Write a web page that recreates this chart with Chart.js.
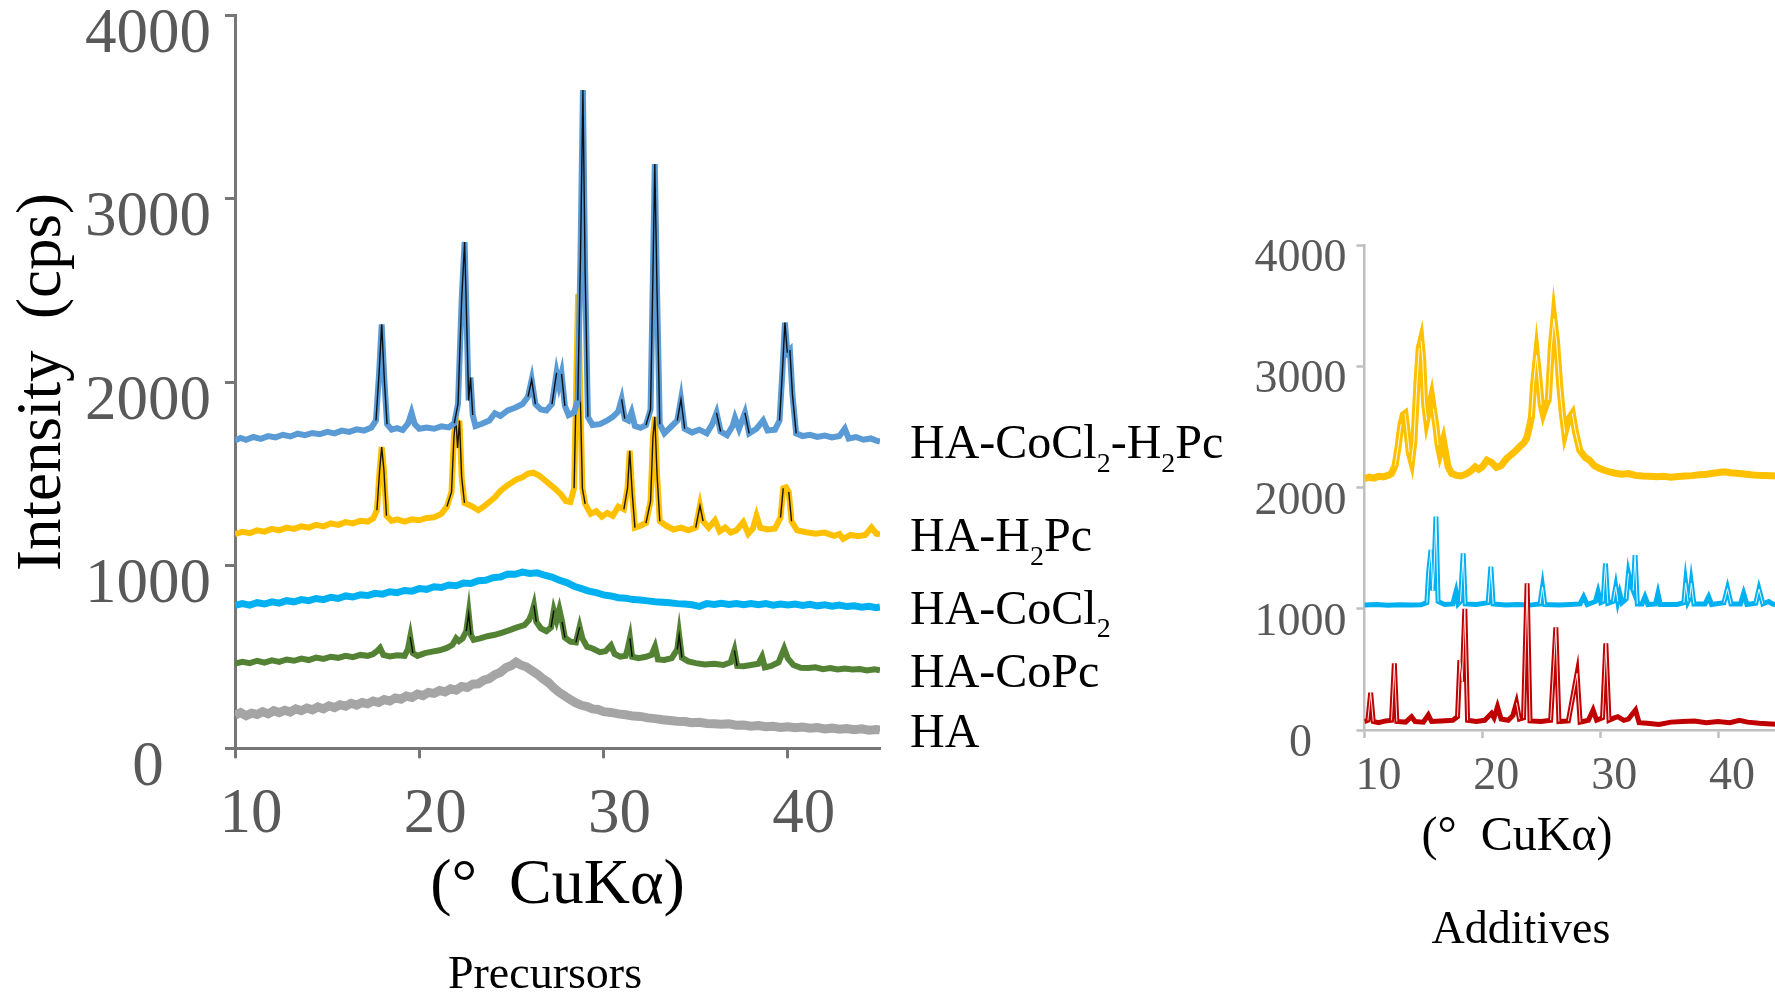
<!DOCTYPE html>
<html lang="en">
<head>
  <meta charset="UTF-8">
  <title>XRD patterns</title>
  <script src="https://cdn.jsdelivr.net/npm/chart.js"></script>
  <style>
    html, body {
      margin: 0;
      padding: 0;
      background: #fff;
      overflow: hidden;
    }

    body {
      width: 1775px;
      height: 995px;
      position: relative;
      font-family: 'Liberation Serif', 'Times New Roman', serif;
    }

    /* canvas starts above the page so the label padding Chart.js keeps at the top falls off-screen */
    #precursorsChart { position: absolute; left: 0; top: -36px; }
    #additivesChart { position: absolute; left: 1190px; top: 0; }

    .caption {
      position: absolute;
      transform: translate(-50%, -50%);
      line-height: 1;
      white-space: pre;
      color: #000;
    }
  </style>
</head>
<body>

<canvas id="precursorsChart" width="1240" height="1031"></canvas>
<canvas id="additivesChart" width="600" height="995"></canvas>
<div class="caption" style="left:545px; top:973px; font-size:46px;">Precursors</div>
<div class="caption" style="left:1517px; top:834px; font-size:48px;">(°  CuKα)</div>
<div class="caption" style="left:1521px; top:928px; font-size:46px;">Additives</div>

<script>
  // ---- Precursors (left panel), [2theta, cps] ----
  const haCoCl2H2Pc = [[10,1680],[10.3,1695],[10.6,1685],[11,1700],[11.4,1690],[11.8,1705],[12.2,1698],[12.6,1712],[13,1703],[13.4,1718],[13.8,1710],[14.2,1722],[14.6,1715],[15,1728],[15.4,1720],[15.8,1735],[16.2,1728],[16.6,1742],[17,1735],[17.4,1752],[17.65,1790],[17.82,2050],[17.96,2315],[18.1,2020],[18.25,1770],[18.5,1740],[18.8,1748],[19.1,1738],[19.4,1775],[19.58,1832],[19.75,1770],[20,1745],[20.4,1752],[20.8,1745],[21.2,1758],[21.6,1752],[21.9,1775],[22.1,1880],[22.3,2450],[22.46,2765],[22.58,2300],[22.68,1900],[22.78,2025],[22.9,1820],[23.05,1760],[23.4,1772],[23.8,1790],[24.1,1830],[24.4,1815],[24.8,1845],[25.2,1860],[25.6,1880],[25.9,1920],[26.1,2012],[26.3,1880],[26.6,1850],[26.9,1845],[27.2,1880],[27.45,2050],[27.58,1985],[27.72,2045],[27.9,1870],[28.1,1820],[28.4,1835],[28.6,1900],[28.75,2700],[28.88,3595],[29,2600],[29.15,1810],[29.4,1765],[29.8,1770],[30.2,1790],[30.5,1810],[30.8,1840],[30.98,1905],[31.15,1800],[31.35,1790],[31.52,1835],[31.7,1760],[32,1750],[32.3,1765],[32.55,1850],[32.68,2600],[32.78,3190],[32.9,2500],[33.05,1770],[33.3,1720],[33.7,1760],[34,1790],[34.2,1905],[34.4,1745],[34.8,1725],[35.2,1740],[35.6,1720],[35.9,1770],[36.13,1832],[36.35,1730],[36.7,1710],[37,1760],[37.13,1805],[37.35,1745],[37.67,1832],[37.9,1720],[38.3,1745],[38.66,1790],[38.9,1735],[39.3,1740],[39.55,1790],[39.7,2050],[39.84,2325],[39.97,2160],[40.11,2175],[40.25,1930],[40.45,1720],[40.8,1705],[41.2,1712],[41.6,1700],[42,1708],[42.4,1698],[42.8,1705],[43.09,1745],[43.3,1692],[43.7,1700],[44.1,1685],[44.5,1692],[44.8,1680],[45,1675]];

  const haH2Pc = [[10,1170],[10.4,1182],[10.8,1175],[11.2,1190],[11.6,1183],[12,1198],[12.4,1190],[12.8,1205],[13.2,1198],[13.6,1212],[14,1205],[14.4,1220],[14.8,1212],[15.2,1228],[15.6,1220],[16,1235],[16.4,1228],[16.8,1242],[17.2,1238],[17.5,1255],[17.7,1300],[17.85,1520],[17.96,1645],[18.08,1520],[18.22,1270],[18.5,1242],[18.8,1250],[19.2,1238],[19.6,1250],[20,1245],[20.4,1258],[20.8,1262],[21.2,1280],[21.5,1320],[21.75,1400],[21.88,1700],[21.98,1810],[22.08,1640],[22.18,1790],[22.3,1480],[22.45,1340],[22.8,1325],[23.2,1300],[23.5,1320],[23.8,1345],[24.1,1370],[24.4,1405],[24.7,1430],[25,1450],[25.3,1470],[25.6,1480],[25.9,1500],[26.2,1505],[26.5,1490],[26.8,1465],[27.1,1440],[27.4,1415],[27.7,1385],[27.95,1350],[28.2,1345],[28.4,1420],[28.52,2000],[28.62,2480],[28.72,2000],[28.85,1420],[29,1335],[29.3,1280],[29.6,1295],[29.9,1265],[30.2,1285],[30.5,1270],[30.8,1320],[31.1,1305],[31.3,1420],[31.42,1625],[31.55,1400],[31.7,1205],[32,1215],[32.3,1230],[32.55,1350],[32.68,1700],[32.78,1810],[32.9,1500],[33.05,1240],[33.4,1215],[33.8,1195],[34.2,1205],[34.6,1190],[35,1205],[35.23,1325],[35.4,1240],[35.7,1205],[36.04,1245],[36.3,1185],[36.6,1205],[36.9,1178],[37.2,1190],[37.58,1235],[37.85,1172],[38.1,1200],[38.3,1270],[38.5,1205],[38.9,1195],[39.3,1200],[39.6,1260],[39.75,1420],[39.9,1425],[40.05,1400],[40.2,1240],[40.5,1190],[41,1180],[41.5,1172],[42,1178],[42.5,1160],[42.8,1170],[43,1143],[43.4,1165],[43.8,1158],[44.2,1165],[44.54,1206],[44.8,1172],[45,1168]];

  const haCoCl2 = [[10,780],[10.4,790],[10.8,782],[11.2,795],[11.6,788],[12,800],[12.4,793],[12.8,806],[13.2,800],[13.6,812],[14,806],[14.4,818],[14.8,812],[15.2,825],[15.6,818],[16,832],[16.4,826],[16.8,838],[17.2,834],[17.6,846],[18,842],[18.4,855],[18.8,850],[19.2,862],[19.6,858],[20,872],[20.4,868],[20.8,882],[21.2,878],[21.6,892],[22,888],[22.4,902],[22.8,900],[23.2,915],[23.6,918],[24,932],[24.4,935],[24.8,952],[25.2,950],[25.6,962],[26,955],[26.4,958],[26.8,945],[27.2,935],[27.6,918],[28,905],[28.4,885],[28.8,872],[29.2,858],[29.6,850],[30,838],[30.4,832],[30.8,822],[31.2,820],[31.6,812],[32,810],[32.4,805],[32.8,800],[33.2,798],[33.6,795],[34,790],[34.4,788],[34.8,784],[35.2,775],[35.6,790],[36,785],[36.4,792],[36.8,786],[37.2,790],[37.6,784],[38,790],[38.4,784],[38.8,790],[39.2,782],[39.6,788],[40,783],[40.4,788],[40.8,780],[41.2,786],[41.6,778],[42,784],[42.4,776],[42.8,782],[43.2,774],[43.6,778],[44,770],[44.4,776],[44.8,768],[45,772]];

  const haCoPc = [[10,462],[10.4,472],[10.8,465],[11.2,478],[11.6,468],[12,480],[12.4,472],[12.8,485],[13.2,478],[13.6,490],[14,482],[14.4,495],[14.8,488],[15.2,500],[15.6,494],[16,505],[16.4,498],[16.8,510],[17.2,505],[17.5,515],[17.7,530],[17.87,548],[18.05,510],[18.4,502],[18.8,508],[19.2,505],[19.38,540],[19.51,608],[19.65,520],[19.9,505],[20.3,520],[20.7,528],[21.1,535],[21.5,548],[21.8,565],[22,600],[22.15,585],[22.35,600],[22.55,640],[22.68,735],[22.8,620],[22.95,592],[23.3,600],[23.7,612],[24.1,620],[24.5,632],[24.9,645],[25.3,660],[25.7,672],[25.95,700],[26.1,735],[26.22,780],[26.35,690],[26.6,655],[26.9,640],[27.15,660],[27.3,752],[27.45,700],[27.6,758],[27.75,690],[27.9,605],[28.2,582],[28.5,578],[28.7,662],[28.85,600],[29.1,555],[29.4,545],[29.8,525],[30.1,530],[30.4,562],[30.6,515],[30.9,500],[31.2,505],[31.3,540],[31.43,600],[31.55,500],[31.9,492],[32.3,500],[32.6,510],[32.79,555],[32.95,485],[33.3,482],[33.7,492],[34,540],[34.1,618],[34.25,495],[34.6,475],[35,465],[35.5,458],[36,462],[36.5,455],[36.9,470],[37.1,535],[37.25,450],[37.6,448],[38,455],[38.4,462],[38.6,500],[38.75,442],[39.1,450],[39.5,470],[39.8,545],[40,490],[40.3,455],[40.7,440],[41.1,438],[41.5,442],[41.9,432],[42.3,438],[42.7,430],[43.1,436],[43.5,430],[43.9,433],[44.3,425],[44.7,432],[45,426]];

  const ha = [[10,181],[10.3,195],[10.6,178],[10.9,192],[11.2,185],[11.5,200],[11.8,188],[12.1,205],[12.4,195],[12.7,208],[13,198],[13.3,215],[13.6,205],[13.9,220],[14.2,210],[14.5,226],[14.8,215],[15.1,232],[15.4,222],[15.7,238],[16,230],[16.3,246],[16.6,236],[16.9,250],[17.2,243],[17.5,258],[17.8,250],[18.1,266],[18.4,258],[18.7,275],[19,268],[19.3,285],[19.6,278],[19.9,296],[20.2,288],[20.5,305],[20.8,300],[21.1,315],[21.4,308],[21.7,325],[22,318],[22.3,338],[22.6,332],[22.9,350],[23.2,352],[23.5,372],[23.8,380],[24.1,402],[24.4,415],[24.7,440],[25,452],[25.25,470],[25.5,455],[25.8,445],[26.1,425],[26.4,405],[26.7,380],[27,360],[27.3,330],[27.6,305],[27.9,285],[28.2,265],[28.5,248],[28.8,235],[29.1,228],[29.4,215],[29.7,212],[30,200],[30.4,196],[30.8,188],[31.2,183],[31.6,176],[32,174],[32.4,166],[32.8,162],[33.2,156],[33.6,152],[34,148],[34.4,146],[34.8,140],[35.2,142],[35.6,136],[36,134],[36.4,131],[36.8,134],[37.2,126],[37.6,127],[38,121],[38.4,124],[38.8,118],[39.2,120],[39.6,114],[40,118],[40.4,112],[40.8,116],[41.2,110],[41.6,113],[42,106],[42.4,110],[42.8,104],[43.2,108],[43.6,102],[44,106],[44.4,99],[44.8,103],[45,99]];

  // ---- Additives (right panel) ----
  const additiveYellow = [[10,2074],[10.4,2085],[10.8,2078],[11.2,2092],[11.6,2088],[12,2100],[12.3,2115],[12.6,2180],[12.85,2330],[13.1,2520],[13.3,2600],[13.44,2610],[13.6,2480],[13.8,2290],[14,2215],[14.2,2380],[14.45,2850],[14.65,3150],[14.8,3210],[14.95,3050],[15.1,2700],[15.28,2555],[15.5,2660],[15.7,2750],[15.85,2650],[16.07,2500],[16.25,2350],[16.4,2280],[16.7,2390],[16.9,2280],[17.1,2170],[17.4,2115],[17.8,2100],[18.2,2095],[18.6,2110],[19,2135],[19.4,2170],[19.7,2150],[20,2170],[20.4,2225],[20.8,2205],[21.2,2165],[21.6,2180],[22.06,2239],[22.4,2265],[22.8,2300],[23.2,2340],[23.5,2365],[23.75,2404],[24,2500],[24.17,2582],[24.35,2850],[24.6,3090],[24.8,2900],[25,2680],[25.16,2610],[25.4,2680],[25.6,2720],[25.85,3150],[26.07,3392],[26.3,3200],[26.58,2829],[26.8,2600],[27,2445],[27.3,2560],[27.64,2610],[27.9,2460],[28.27,2307],[28.7,2250],[29.1,2225],[29.5,2180],[29.97,2156],[30.4,2140],[30.8,2128],[31.2,2120],[31.8,2110],[32.4,2115],[33,2100],[33.6,2095],[34.2,2092],[34.8,2088],[35.4,2092],[36,2085],[36.6,2090],[37.2,2094],[37.8,2098],[38.4,2105],[39,2110],[39.6,2118],[40.2,2125],[40.6,2130],[41,2122],[41.6,2118],[42.2,2112],[42.8,2105],[43.4,2100],[44,2098],[44.5,2096],[45,2094]];

  const additiveCyan = [[10,1030],[11,1035],[12,1028],[13,1033],[14,1030],[14.8,1032],[15.3,1050],[15.45,1300],[15.65,1485],[15.8,1150],[15.9,1300],[16.07,1760],[16.25,1060],[16.8,1035],[17.5,1040],[17.77,1140],[17.95,1040],[18.15,1060],[18.38,1456],[18.55,1040],[19.5,1035],[20.5,1050],[20.73,1346],[20.92,1040],[22,1030],[23,1035],[24,1030],[24.9,1040],[25.11,1180],[25.3,1035],[26.5,1030],[27.5,1035],[28.3,1040],[28.6,1099],[28.9,1035],[29.6,1060],[29.82,1140],[30.05,1050],[30.25,1060],[30.45,1373],[30.65,1045],[31.1,1060],[31.32,1181],[31.5,1060],[31.66,1126],[31.85,1050],[32.2,1080],[32.4,1291],[32.6,1200],[32.8,1150],[32.96,1442],[33.15,1040],[33.55,1040],[33.8,1099],[34.05,1035],[34.7,1040],[34.9,1126],[35.1,1035],[36.5,1035],[37.1,1050],[37.25,1214],[37.45,1060],[37.6,1090],[37.73,1209],[37.95,1040],[38.9,1040],[39.2,1099],[39.45,1035],[40.5,1050],[40.8,1167],[41.1,1040],[41.9,1040],[42.17,1126],[42.45,1035],[43.2,1045],[43.47,1162],[43.8,1040],[44.3,1060],[44.6,1040],[45,1030]];

  const additiveRed = [[10,69],[10.3,80],[10.53,308],[10.75,70],[11.2,60],[11.8,75],[12.3,80],[12.54,550],[12.75,70],[13.5,65],[14,110],[14.3,70],[15,65],[15.42,124],[15.7,70],[16.5,75],[17.5,80],[17.9,110],[18.1,577],[18.3,400],[18.52,1000],[18.75,80],[19.5,70],[20.2,80],[20.5,110],[20.78,137],[21,100],[21.29,192],[21.6,90],[22.2,80],[22.6,120],[22.9,225],[23.15,90],[23.5,100],[23.8,1209],[24.05,75],[25,70],[25.8,80],[26.24,846],[26.5,70],[27.3,75],[28.04,467],[28.3,65],[29,80],[29.4,165],[29.7,80],[30.2,100],[30.48,714],[30.75,80],[31.2,100],[31.5,110],[32,80],[32.4,90],[33,165],[33.3,60],[34,55],[35,45],[36,65],[37,70],[38,75],[39,60],[40,70],[41,60],[41.8,80],[42.5,65],[43.5,55],[44.5,50],[45,48]];

  const xTicks = { min: 10, max: 45, step: 10 };
  const yTicks = { min: 0, max: 4000, step: 1000 };

  const serif = "'Liberation Serif', 'Times New Roman', serif";
  const tickGray = '#595959';

  // steep stretches of a trace show a thin core line, like the original plot
  const steep = c => {
    const dx = Math.abs(c.p1.x - c.p0.x), dy = Math.abs(c.p1.y - c.p0.y);
    return dy > 14 && dy > 3 * dx;
  };

  function traces(list, coreColor, coreWidth) {
    const out = [];
    list.forEach((s, i) => {
      const pts = s.data.map(([x, y]) => ({ x, y }));
      out.push({
        label: s.name || '',
        endLabel: s.name,
        data: pts,
        borderColor: s.color,
        borderWidth: s.width,
        pointRadius: 0,
        tension: 0,
        order: i * 2 + 1
      });
      out.push({
        data: pts,
        borderColor: 'transparent',
        borderWidth: coreWidth,
        pointRadius: 0,
        tension: 0,
        order: i * 2,
        segment: { borderColor: c => steep(c) ? coreColor : 'transparent' }
      });
    });
    return out;
  }

  // label text with _2 style subscripts
  function drawRich(ctx, text, x, y, size) {
    let cx = x;
    text.split(/(_\d)/).forEach(part => {
      if (!part) return;
      const sub = part[0] === '_';
      const t = sub ? part.slice(1) : part;
      ctx.font = (sub ? Math.round(size * 0.58) : size) + 'px ' + serif;
      ctx.fillText(t, cx, sub ? y + size * 0.4 : y);
      cx += ctx.measureText(t).width;
    });
  }

  const endLabels = {
    id: 'endLabels',
    afterDatasetsDraw(chart, args, opts) {
      const { ctx, chartArea, scales } = chart;
      ctx.save();
      ctx.fillStyle = '#000';
      ctx.textBaseline = 'middle';
      ctx.textAlign = 'left';
      chart.data.datasets.forEach(ds => {
        if (!ds.endLabel) return;
        const last = ds.data[ds.data.length - 1];
        drawRich(ctx, ds.endLabel, chartArea.right + opts.gap,
                 scales.y.getPixelForValue(last.y) + opts.shift, opts.size);
      });
      ctx.restore();
    }
  };

  function axis(o) {
    return {
      type: 'linear',
      min: o.range.min,
      max: o.range.max,
      afterFit: o.fit,
      border: { display: true, color: o.line, width: o.lineWidth },
      grid: {
        display: true,
        drawOnChartArea: false,
        drawTicks: true,
        tickLength: o.tickLength,
        tickColor: o.line,
        tickWidth: o.lineWidth
      },
      ticks: {
        stepSize: o.range.step,
        includeBounds: false,
        autoSkip: false,
        maxRotation: 0,
        callback: v => String(v),
        color: tickGray,
        font: { family: serif, size: o.fontSize },
        padding: o.pad,
        labelOffset: o.offset,
        crossAlign: o.crossAlign || 'near'
      },
      title: o.title || { display: false }
    };
  }

  Chart.register(endLabels);

  new Chart(document.getElementById('precursorsChart'), {
    type: 'line',
    data: {
      datasets: traces([
        { name: 'HA-CoCl_2-H_2Pc', data: haCoCl2H2Pc, color: '#5b9bd5', width: 6 },
        { name: 'HA-H_2Pc', data: haH2Pc, color: '#ffc000', width: 6 },
        { name: 'HA-CoCl_2', data: haCoCl2, color: '#00b0f0', width: 7 },
        { name: 'HA-CoPc', data: haCoPc, color: '#548235', width: 6 },
        { name: 'HA', data: ha, color: '#a5a5a5', width: 9 }
      ], 'rgba(0,0,0,0.9)', 1.4)
    },
    options: {
      responsive: false,
      animation: false,
      devicePixelRatio: 1,
      layout: { autoPadding: false, padding: { top: 50, right: 360, bottom: 0, left: 0 } },
      scales: {
        x: axis({
          range: xTicks, fit: s => { s.height = 246.7; },
          line: '#767676', lineWidth: 3, tickLength: 10,
          fontSize: 63, pad: 19, offset: 16,
          title: {
            display: true, text: '(°  CuKα)', color: '#000',
            font: { family: serif, size: 64, lineHeight: 1 },
            padding: { top: 0, bottom: 77 }
          }
        }),
        y: axis({
          range: yTicks, fit: s => { s.width = 235; },
          line: '#767676', lineWidth: 3, tickLength: 10,
          fontSize: 63, pad: 14, offset: 20, crossAlign: 'center',
          title: {
            display: true, text: 'Intensity  (cps)', color: '#000',
            font: { family: serif, size: 63, lineHeight: 1 },
            padding: { top: 12, bottom: 0 }
          }
        })
      },
      plugins: {
        legend: { display: false },
        tooltip: { enabled: false },
        endLabels: { gap: 30, shift: 4, size: 48 }
      }
    }
  });

  new Chart(document.getElementById('additivesChart'), {
    type: 'line',
    data: {
      datasets: traces([
        { data: additiveRed, color: '#c00000', width: 5 },
        { data: additiveCyan, color: '#00b0f0', width: 5 },
        { data: additiveYellow, color: '#ffc000', width: 7 }
      ], 'rgba(255,255,255,0.9)', 1)
    },
    options: {
      responsive: false,
      animation: false,
      devicePixelRatio: 1,
      layout: { autoPadding: false, padding: { top: 245, right: 13, bottom: 205, left: 0 } },
      scales: {
        x: axis({
          range: xTicks, fit: s => { s.height = 60; },
          line: '#bfbfbf', lineWidth: 2.5, tickLength: 8,
          fontSize: 46, pad: 11, offset: 14
        }),
        y: axis({
          range: yTicks, fit: s => { s.width = 174.4; },
          line: '#bfbfbf', lineWidth: 2.5, tickLength: 8,
          fontSize: 46, pad: 10, offset: 14, crossAlign: 'center'
        })
      },
      plugins: {
        legend: { display: false },
        tooltip: { enabled: false },
        endLabels: { gap: 0, shift: 0, size: 0 }
      }
    }
  });
</script>

</body>
</html>
